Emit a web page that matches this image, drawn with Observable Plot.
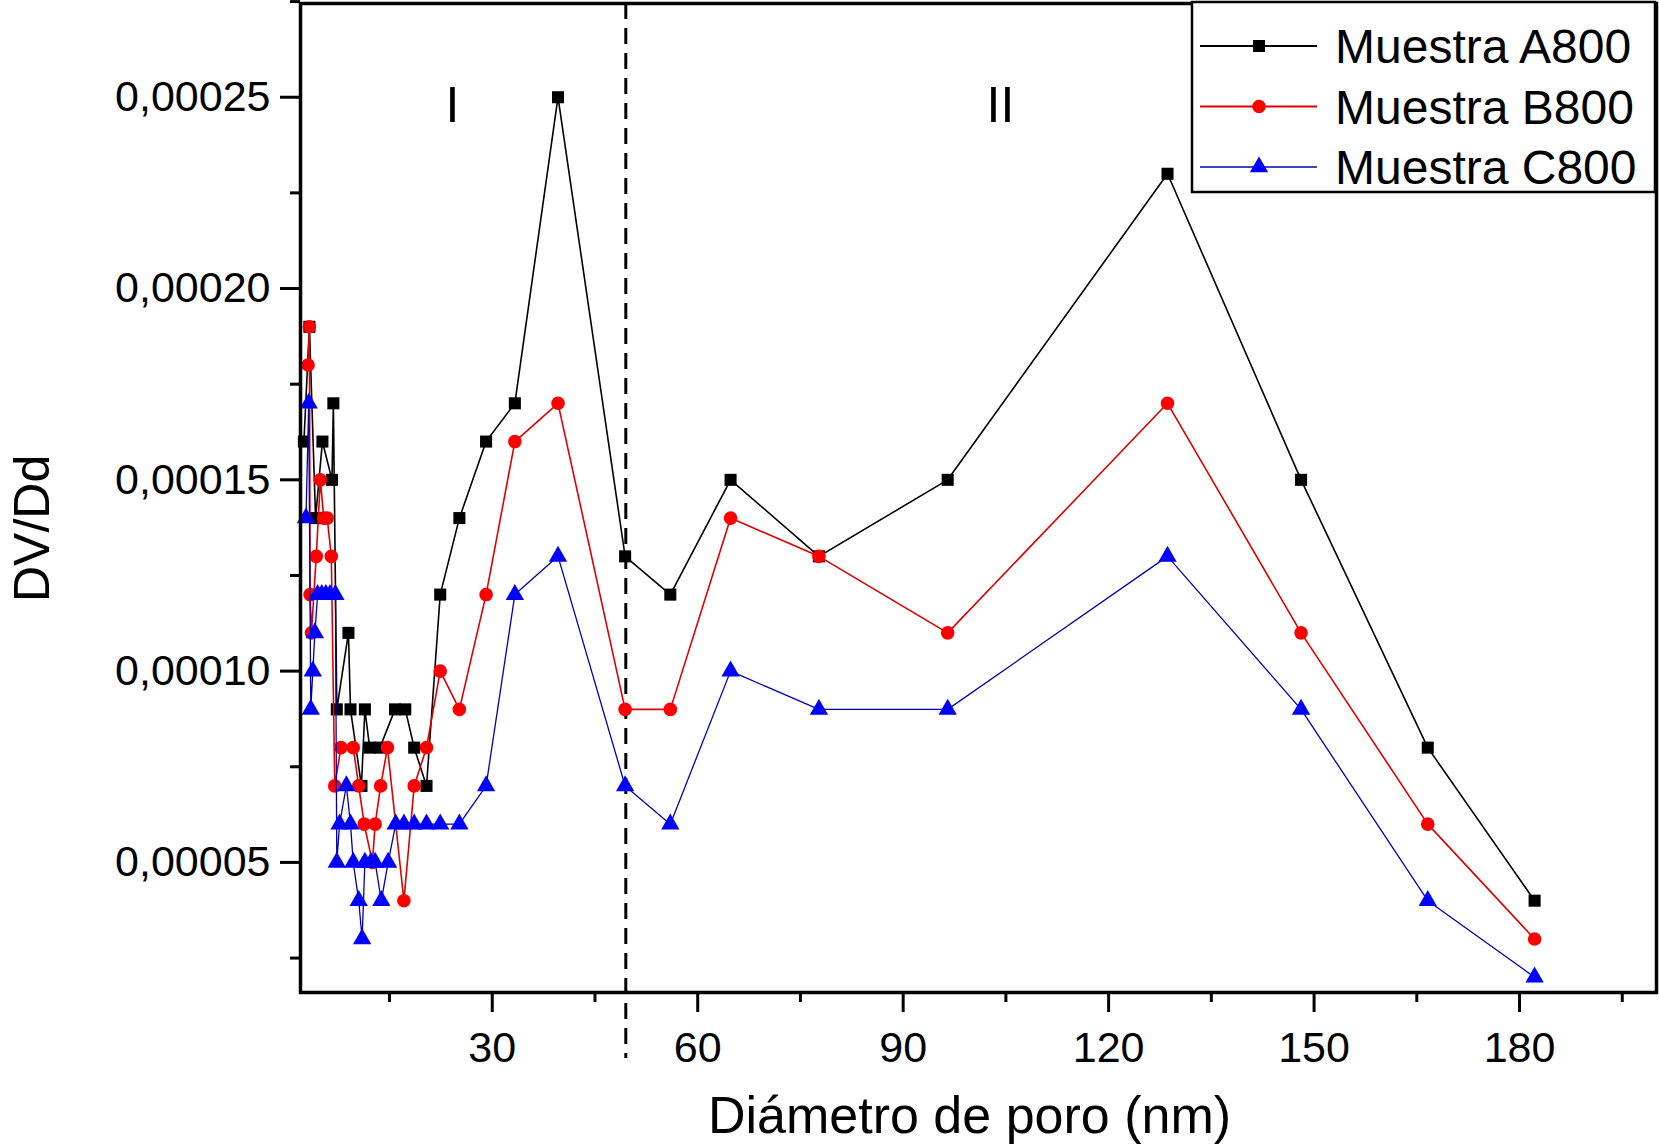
<!DOCTYPE html>
<html>
<head>
<meta charset="utf-8">
<script src="https://cdn.jsdelivr.net/npm/d3@7"></script>
<script src="https://cdn.jsdelivr.net/npm/@observablehq/plot@0.6"></script>
<style>
  body { margin: 0; background: #fff; }
  #chart { width: 1659px; height: 1148px; }
</style>
</head>
<body>
<div id="chart"></div>
<script>
// series names and colours
const series = ["Muestra A800", "Muestra B800", "Muestra C800"];
const markColors = ["#000000", "#ff0000", "#0000ff"];
const lineColors = ["#000000", "#dd0000", "#0000b0"];
const symbols = ["square", "circle", "triangle"];

// pore diameter (nm) and DV/Dd
const xA = [2.5, 3.3, 4.2, 5.2, 6.6, 6.8, 7.3, 9.0, 9.3, 10.9, 11.4, 12.1, 13.6, 15.8, 17.3, 18.6, 20.4,
  22.4, 25.2, 29.1, 33.3, 39.6, 49.4, 56.0, 64.8, 77.7, 96.5, 128.6, 148.1, 166.6, 182.2];
const yA = [0.00016, 0.00019, 0.00014, 0.00016, 0.00015, 0.00017, 0.00009, 0.00011, 0.00009, 0.00007, 0.00009, 0.00008, 0.00008, 0.00009, 0.00009, 0.00008, 0.00007,
  0.00012, 0.00014, 0.00016, 0.00017, 0.00025, 0.00013, 0.00012, 0.00015, 0.00013, 0.00015, 0.00023, 0.00015, 0.00008, 0.00004];

const xB = [3.1, 3.3, 3.4, 3.6, 4.3, 4.9, 5.4, 5.9, 6.5, 7.0, 7.9, 9.7, 10.5, 11.3, 12.5, 12.9, 13.7, 14.7, 17.1, 18.6, 20.4,
  22.4, 25.2, 29.1, 33.3, 39.6, 49.4, 56.0, 64.8, 77.7, 96.5, 128.6, 148.1, 166.6, 182.2];
const yB = [0.00018, 0.00019, 0.00012, 0.00011, 0.00013, 0.00015, 0.00014, 0.00014, 0.00013, 0.00007, 0.00008, 0.00008, 0.00007, 0.00006, 0.00005, 0.00006, 0.00007, 0.00008, 0.00004, 0.00007, 0.00008,
  0.00010, 0.00009, 0.00012, 0.00016, 0.00017, 0.00009, 0.00009, 0.00014, 0.00013, 0.00011, 0.00017, 0.00011, 0.00006, 0.00003];

const xC = [2.8, 3.2, 3.5, 3.8, 4.1, 4.5, 5.1, 5.7, 6.3, 7.1, 7.3, 7.7, 8.7, 9.3, 9.7, 10.5, 11.0, 11.4, 12.3, 12.9, 13.8, 14.8, 15.9, 17.1, 18.6, 20.4,
  22.4, 25.2, 29.1, 33.3, 39.6, 49.4, 56.0, 64.8, 77.7, 96.5, 128.6, 148.1, 166.6, 182.2];
const yC = [0.00014, 0.00017, 0.00009, 0.00010, 0.00011, 0.00012, 0.00012, 0.00012, 0.00012, 0.00012, 0.00005, 0.00006, 0.00007, 0.00006, 0.00005, 0.00004, 0.00003, 0.00005, 0.00005, 0.00005, 0.00004, 0.00005, 0.00006, 0.00006, 0.00006, 0.00006,
  0.00006, 0.00006, 0.00007, 0.00012, 0.00013, 0.00007, 0.00006, 0.00010, 0.00009, 0.00009, 0.00013, 0.00009, 0.00004, 0.00002];

// axes
const xDomain = [2, 200];
const yDomain = [0.000016, 0.0002745];
const xMajor = [30, 60, 90, 120, 150, 180];
const xMinor = [15, 45, 75, 105, 135, 165, 195];
const yMajor = [0.00005, 0.0001, 0.00015, 0.0002, 0.00025];
const yMinor = [0.000025, 0.000075, 0.000125, 0.000175, 0.000225, 0.000275];
const boundary = 49.5;
const regionLabels = [{x: 24.2, y: 0.0002476, t: "I"}, {x: 104.2, y: 0.0002476, t: "II"}];
const xTitle = "Diámetro de poro (nm)";
const yTitle = "DV/Dd";

const toRows = (name, xs, ys) => xs.map((d, i) => ({serie: name, d: d, v: ys[i]}));
const tables = [toRows(series[0], xA, yA), toRows(series[1], xB, yB), toRows(series[2], xC, yC)];

const fmt = v => d3.format(".5f")(v).replace(".", ",");
const R = 6.8;

const seriesMarks = tables.flatMap((t, i) => [
  Plot.line(t, {x: "d", y: "v", stroke: lineColors[i], strokeWidth: i == 2 ? 1.3 : 1.6}),
  Plot.dot(t, {x: "d", y: "v", symbol: () => symbols[i], fill: markColors[i], stroke: "none", r: R})
]);

let chart = Plot.plot({
  width: 1659,
  height: 1148,
  marginLeft: 300,
  marginRight: 3,
  marginTop: 3,
  marginBottom: 156,
  style: {fontFamily: "'Liberation Sans', Arial, sans-serif", background: "#fff", color: "#000"},
  x: {domain: xDomain},
  y: {domain: yDomain},
  marks: [
    Plot.axisX(xMajor, {tickSize: 20, strokeWidth: 3, tickPadding: 19, fontSize: 43, label: null, tickFormat: d => d}),
    Plot.axisX(xMinor, {tickSize: 10, strokeWidth: 3, tickFormat: () => "", label: null}),
    Plot.axisY(yMajor, {tickSize: 20, strokeWidth: 3, tickPadding: 10, fontSize: 43, tickFormat: fmt, label: null}),
    Plot.axisY(yMinor, {tickSize: 10, strokeWidth: 3, tickFormat: () => "", label: null}),
    Plot.ruleX([boundary], {stroke: "#000", strokeWidth: 3, strokeDasharray: "16,9", insetBottom: -66}),
    ...seriesMarks,
    Plot.text(regionLabels, {x: "x", y: "y", text: "t", fontSize: 50}),
    Plot.text([xTitle], {frameAnchor: "bottom", dx: -9, dy: 140, fontSize: 52}),
    Plot.text([yTitle], {frameAnchor: "left", dx: -268, dy: 104, rotate: -90, fontSize: 50}),
    Plot.frame({stroke: "#000", strokeWidth: 3.5})
  ]
});

d3.select('#chart').append(() => chart);

// legend box in the upper right corner
const svg = d3.select(chart);
const lg = svg.append("g").attr("text-anchor", "start");
lg.append("rect").attr("x", 1192).attr("y", 2).attr("width", 463).attr("height", 190)
  .attr("fill", "#fff").attr("stroke", "#000").attr("stroke-width", 2.5);
const symTypes = [d3.symbolSquare, d3.symbolCircle, d3.symbolTriangle];
series.forEach((name, i) => {
  const cy = 46 + i * 60.5;
  lg.append("line").attr("x1", 1200).attr("x2", 1317).attr("y1", cy).attr("y2", cy)
    .attr("stroke", lineColors[i]).attr("stroke-width", i == 2 ? 1.3 : 2);
  lg.append("path").attr("d", d3.symbol(symTypes[i], Math.PI * 6.8 * 6.8)())
    .attr("transform", `translate(1259,${cy})`).attr("fill", markColors[i]);
  lg.append("text").attr("x", 1335).attr("y", cy).attr("dy", "0.36em")
    .attr("font-size", 48).attr("fill", "#000").text(name);
});
</script>
</body>
</html>
